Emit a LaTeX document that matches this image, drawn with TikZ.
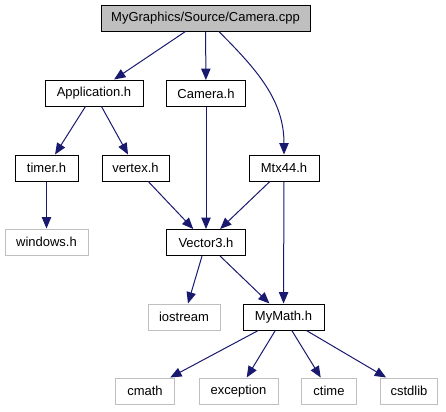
\documentclass[tikz,border=0pt]{standalone}
\usepackage{fontspec}
\setmainfont{Liberation Sans}
\usetikzlibrary{arrows.meta}
\definecolor{edgeblue}{HTML}{191970}
\definecolor{sysgrey}{HTML}{BFBFBF}
\newdimen\px \px=0.75pt

\begin{document}
\begin{tikzpicture}[
  x=0.75pt, y=-0.75pt,
  hdr/.style={draw=black, line width=0.75pt, inner sep=0pt, minimum height=26\px, font=\fontsize{9.75}{11}\selectfont},
  sys/.style={hdr, draw=sysgrey},
  root/.style={hdr, fill=sysgrey},
  dep/.style={-{Triangle[length=8.5pt,width=7pt]}, edgeblue, line width=0.75pt}
]
\useasboundingbox (0,0) rectangle (446,411);

\node[root, minimum width=209\px] (cpp) at (205.5,18) {MyGraphics/Source/Camera.cpp};
\node[hdr, minimum width=98\px] (app) at (94,93) {Application.h};
\node[hdr, minimum width=79\px] (cam) at (206,93.5) {Camera.h};
\node[hdr, minimum width=63\px] (timer) at (46.5,168) {timer.h};
\node[hdr, minimum width=67\px] (vertex) at (135.5,168) {vertex.h};
\node[hdr, minimum width=70\px] (mtx) at (284,168) {Mtx44.h};
\node[sys, minimum width=83\px] (win) at (46.5,242) {windows.h};
\node[hdr, minimum width=79\px] (vec) at (206,242.5) {Vector3.h};
\node[sys, minimum width=72\px] (ios) at (184,317) {iostream};
\node[hdr, minimum width=81\px] (math) at (283.5,317) {MyMath.h};
\node[sys, minimum width=59\px] (cmath) at (145,391) {cmath};
\node[sys, minimum width=79\px] (exc) at (238.5,391) {exception};
\node[sys, minimum width=55\px] (ctime) at (329,391) {ctime};
\node[sys, minimum width=57\px] (cstd) at (409,391) {cstdlib};

\draw[dep] (cpp) -- (app); \draw[dep] (cpp) -- (cam);
\draw[dep] ([xshift=10pt]cpp.south) to[out=-45,in=90] (mtx.north);
\draw[dep] (app) -- (timer); \draw[dep] (app) -- (vertex);
\draw[dep] (timer) -- (win);
\draw[dep] (vertex) -- (vec); \draw[dep] (cam) -- (vec); \draw[dep] (mtx) -- (vec);
\draw[dep] (mtx) -- (math);
\draw[dep] (vec) -- (ios); \draw[dep] (vec) -- (math);
\draw[dep] (math) -- (cmath); \draw[dep] (math) -- (exc);
\draw[dep] (math) -- (ctime); \draw[dep] (math) -- (cstd);
\end{tikzpicture}
\end{document}
